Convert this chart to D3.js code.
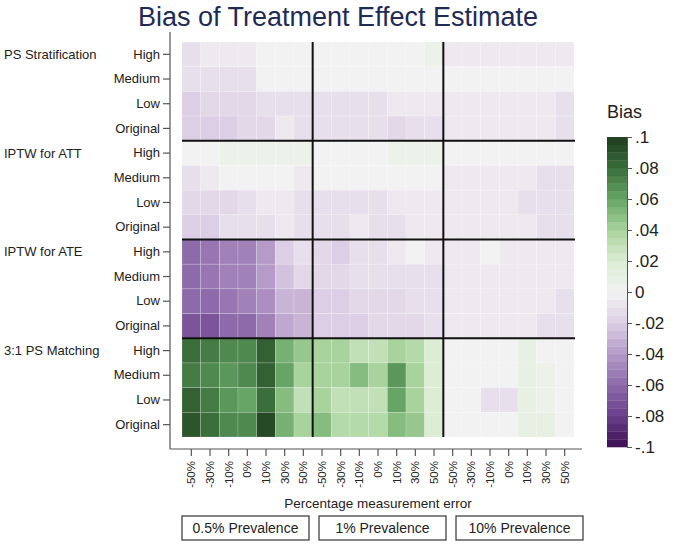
<!DOCTYPE html>
<html>
<head>
<meta charset="utf-8">
<script src="https://cdn.jsdelivr.net/npm/d3@7"></script>
<style>
  body { margin: 0; background: #fff; }
  svg { font-family: "Liberation Sans", Arial, sans-serif; }
</style>
</head>
<body>
<svg width="675" height="545"></svg>
<script>
// categories
var methods = ['PS Stratification', 'IPTW for ATT', 'IPTW for ATE', '3:1 PS Matching']
var levels = ['High', 'Medium', 'Low', 'Original']
var errors = ['-50%', '-30%', '-10%', '0%', '10%', '30%', '50%']
var prevalences = ['0.5% Prevalence', '1% Prevalence', '10% Prevalence']
var colorTicks = [-0.1, -0.08, -0.06, -0.04, -0.02, 0, 0.02, 0.04, 0.06, 0.08, 0.1]

// bias, one row per level, 21 columns (0.5% | 1% | 10%)
var biasPSStrat = [
  [-0.010, -0.004, -0.004, -0.004, -0.002, -0.002, -0.002, -0.002, -0.002, -0.002, -0.002, -0.002, -0.002, 0.005, -0.003, -0.003, -0.003, -0.003, -0.003, -0.003, -0.003],
  [-0.008, -0.008, -0.008, -0.008, -0.002, -0.002, -0.002, -0.002, -0.002, -0.002, -0.002, -0.002, -0.002, -0.002, -0.002, -0.002, -0.002, -0.002, -0.002, -0.002, -0.002],
  [-0.020, -0.015, -0.015, -0.015, -0.008, -0.008, -0.008, -0.008, -0.010, -0.010, -0.010, -0.003, -0.003, -0.003, -0.003, -0.003, -0.003, -0.003, -0.003, -0.003, -0.010],
  [-0.020, -0.020, -0.022, -0.015, -0.015, -0.006, -0.010, -0.010, -0.010, -0.008, -0.008, -0.015, -0.010, -0.008, -0.004, -0.004, -0.004, -0.004, -0.004, -0.004, -0.010]
]
var biasIPTWATT = [
  [-0.002, -0.002, 0.003, 0.003, 0.003, 0.003, 0.003, 0.001, -0.001, -0.001, 0.001, 0.004, 0.004, 0.003, -0.002, -0.002, -0.002, -0.002, -0.002, -0.002, -0.002],
  [-0.008, -0.003, -0.002, -0.002, 0.002, -0.002, -0.003, -0.002, -0.002, -0.002, -0.002, -0.002, -0.002, -0.002, -0.003, -0.003, -0.003, -0.003, -0.003, -0.010, -0.010],
  [-0.015, -0.015, -0.013, -0.010, -0.006, -0.006, -0.010, -0.010, -0.010, -0.010, -0.008, -0.003, -0.003, -0.004, -0.003, -0.003, -0.003, -0.003, -0.010, -0.010, -0.010],
  [-0.022, -0.020, -0.012, -0.012, -0.008, -0.004, -0.008, -0.010, -0.012, -0.006, -0.012, -0.012, -0.006, -0.006, -0.003, -0.003, -0.003, -0.003, -0.003, -0.010, -0.010]
]
var biasIPTWATE = [
  [-0.058, -0.055, -0.050, -0.052, -0.040, -0.018, -0.010, -0.015, -0.018, -0.010, -0.010, -0.006, -0.002, -0.004, -0.003, -0.003, -0.002, -0.003, -0.003, -0.003, -0.003],
  [-0.060, -0.055, -0.050, -0.052, -0.038, -0.025, -0.015, -0.015, -0.015, -0.010, -0.010, -0.010, -0.012, -0.008, -0.003, -0.003, -0.003, -0.003, -0.003, -0.003, -0.003],
  [-0.062, -0.060, -0.055, -0.050, -0.045, -0.030, -0.028, -0.018, -0.018, -0.015, -0.015, -0.015, -0.010, -0.010, -0.003, -0.003, -0.003, -0.003, -0.003, -0.003, -0.010],
  [-0.068, -0.070, -0.062, -0.058, -0.050, -0.035, -0.030, -0.020, -0.018, -0.018, -0.015, -0.015, -0.015, -0.012, -0.003, -0.003, -0.003, -0.003, -0.003, -0.010, -0.010]
]
var biasMatching = [
  [0.080, 0.077, 0.072, 0.072, 0.085, 0.055, 0.045, 0.040, 0.038, 0.030, 0.030, 0.042, 0.035, 0.018, 0.002, 0.001, 0.002, 0.001, 0.012, 0.002, 0.001],
  [0.075, 0.072, 0.065, 0.072, 0.085, 0.060, 0.038, 0.040, 0.040, 0.048, 0.040, 0.065, 0.038, 0.020, -0.002, -0.002, -0.002, -0.002, 0.010, 0.005, 0.001],
  [0.085, 0.075, 0.065, 0.062, 0.080, 0.050, 0.032, 0.042, 0.032, 0.032, 0.032, 0.060, 0.040, 0.022, -0.002, -0.002, -0.008, -0.008, 0.010, 0.003, -0.002],
  [0.090, 0.080, 0.072, 0.070, 0.095, 0.055, 0.040, 0.048, 0.035, 0.035, 0.035, 0.050, 0.045, 0.020, 0.002, 0.002, 0.001, 0.001, 0.012, 0.010, 0.001]
]

var allBias = [biasPSStrat, biasIPTWATT, biasIPTWATE, biasMatching]

var svg = d3.select('svg')
var nCols = prevalences.length * errors.length

var cells = []
allBias.forEach((rows, m) => {
  rows.forEach((vals, l) => {
    vals.forEach((v, c) => {
      cells.push({ row: m * levels.length + l, col: c, value: v })
    })
  })
})

var x = d3.scaleBand().domain(d3.range(nCols)).range([182, 574])
var y = d3.scaleBand().domain(d3.range(methods.length * levels.length)).range([42, 437])

// muted purple-green ramp
var ramp = d3.scaleLinear()
  .domain([-0.1, -0.08, -0.06, -0.04, -0.02, 0, 0.02, 0.04, 0.06, 0.08, 0.1])
  .range(['#3d0f52', '#6a3f8c', '#8d6aa9', '#b49bc8', '#dccfe5', '#f2f2f2', '#dbedd3', '#a8d39c', '#66a566', '#3a6e3a', '#1f3d1f'])
  .interpolate(d3.interpolateLab)
  .clamp(true)

// binned colours, like the legend
var color = v => ramp(Math.round(v / 0.005) * 0.005)

svg.append('text')
  .attr('x', 338).attr('y', 26)
  .attr('text-anchor', 'middle')
  .attr('font-size', 27)
  .attr('fill', '#1f2b57')
  .text('Bias of Treatment Effect Estimate')

svg.append('g').selectAll('rect')
  .data(cells)
  .enter().append('rect')
  .attr('x', d => x(d.col))
  .attr('y', d => y(d.row))
  .attr('width', x.bandwidth())
  .attr('height', y.bandwidth())
  .attr('fill', d => color(d.value))
  .attr('stroke', '#ffffff')
  .attr('stroke-opacity', 0.3)
  .attr('stroke-width', 0.6)

// separators between methods and prevalences
var sep = svg.append('g').attr('stroke', '#111').attr('stroke-width', 2)
d3.range(1, methods.length).forEach(m => {
  var yy = y(m * levels.length)
  sep.append('line').attr('x1', 182).attr('x2', 575).attr('y1', yy).attr('y2', yy)
})
d3.range(1, prevalences.length).forEach(p => {
  var xx = x(p * errors.length)
  sep.append('line').attr('x1', xx).attr('x2', xx).attr('y1', 42).attr('y2', 437)
})

// axes
var axisColor = '#555'
svg.append('line').attr('x1', 170).attr('x2', 170).attr('y1', 32).attr('y2', 449)
  .attr('stroke', axisColor).attr('stroke-width', 1.2)
svg.append('line').attr('x1', 170).attr('x2', 582).attr('y1', 449).attr('y2', 449)
  .attr('stroke', axisColor).attr('stroke-width', 1.2)

var yAxis = svg.append('g')
  .attr('transform', 'translate(170,0)')
  .call(d3.axisLeft(y).tickSize(7).tickPadding(3).tickFormat(i => levels[i % levels.length]))
yAxis.select('.domain').remove()
yAxis.selectAll('line').attr('stroke', axisColor).attr('stroke-width', 1.2)
yAxis.selectAll('text').attr('font-size', 13).attr('fill', '#222').attr('font-family', null)

svg.append('g').selectAll('text')
  .data(methods)
  .enter().append('text')
  .attr('x', 4)
  .attr('y', (d, i) => y(i * levels.length) + y.bandwidth() / 2 + 4.5)
  .attr('font-size', 13)
  .attr('fill', '#222')
  .text(d => d)

var xAxis = svg.append('g')
  .attr('transform', 'translate(0,449)')
  .call(d3.axisBottom(x).tickSize(7).tickFormat(i => errors[i % errors.length]))
xAxis.select('.domain').remove()
xAxis.selectAll('line').attr('stroke', axisColor).attr('stroke-width', 1.2)
xAxis.selectAll('text')
  .attr('font-size', 11.5).attr('fill', '#222').attr('font-family', null)
  .attr('text-anchor', 'end')
  .attr('transform', 'rotate(-90)')
  .attr('x', -12).attr('y', 0).attr('dy', '0.35em')

svg.append('text')
  .attr('x', 378).attr('y', 508)
  .attr('text-anchor', 'middle')
  .attr('font-size', 13.5)
  .attr('fill', '#222')
  .text('Percentage measurement error')

var boxes = svg.append('g').selectAll('g')
  .data(prevalences)
  .enter().append('g')
  .attr('transform', (d, i) => 'translate(' + (182 + i * 137) + ',516)')
boxes.append('rect')
  .attr('width', 127).attr('height', 24)
  .attr('fill', '#fff').attr('stroke', '#333').attr('stroke-width', 1.2)
boxes.append('text')
  .attr('x', 63.5).attr('y', 17)
  .attr('text-anchor', 'middle')
  .attr('font-size', 14)
  .attr('fill', '#222')
  .text(d => d)

// colour legend
var c = d3.scaleLinear().domain([-0.1, 0.1]).range([447, 137])
var bands = d3.range(-0.1, 0.1 - 1e-9, 0.005)
svg.append('g').selectAll('rect')
  .data(bands)
  .enter().append('rect')
  .attr('x', 607)
  .attr('y', d => c(d + 0.005))
  .attr('width', 20)
  .attr('height', d => c(d) - c(d + 0.005) + 0.3)
  .attr('fill', d => ramp(d + 0.0025))

// stata style: no leading zero, plain hyphen
var fmt = v => v === 0 ? '0' : d3.format('.2~f')(v).replace('0.', '.').replace('\u2212', '-')
var cAxis = svg.append('g')
  .attr('transform', 'translate(627,0)')
  .call(d3.axisRight(c).tickValues(colorTicks).tickSize(5).tickPadding(3).tickFormat(fmt))
cAxis.select('.domain').attr('stroke', axisColor)
cAxis.selectAll('line').attr('stroke', axisColor)
cAxis.selectAll('text').attr('font-size', 17).attr('fill', '#222').attr('font-family', null)

svg.append('text')
  .attr('x', 607).attr('y', 118)
  .attr('font-size', 18)
  .attr('fill', '#222')
  .text('Bias')
</script>
</body>
</html>
